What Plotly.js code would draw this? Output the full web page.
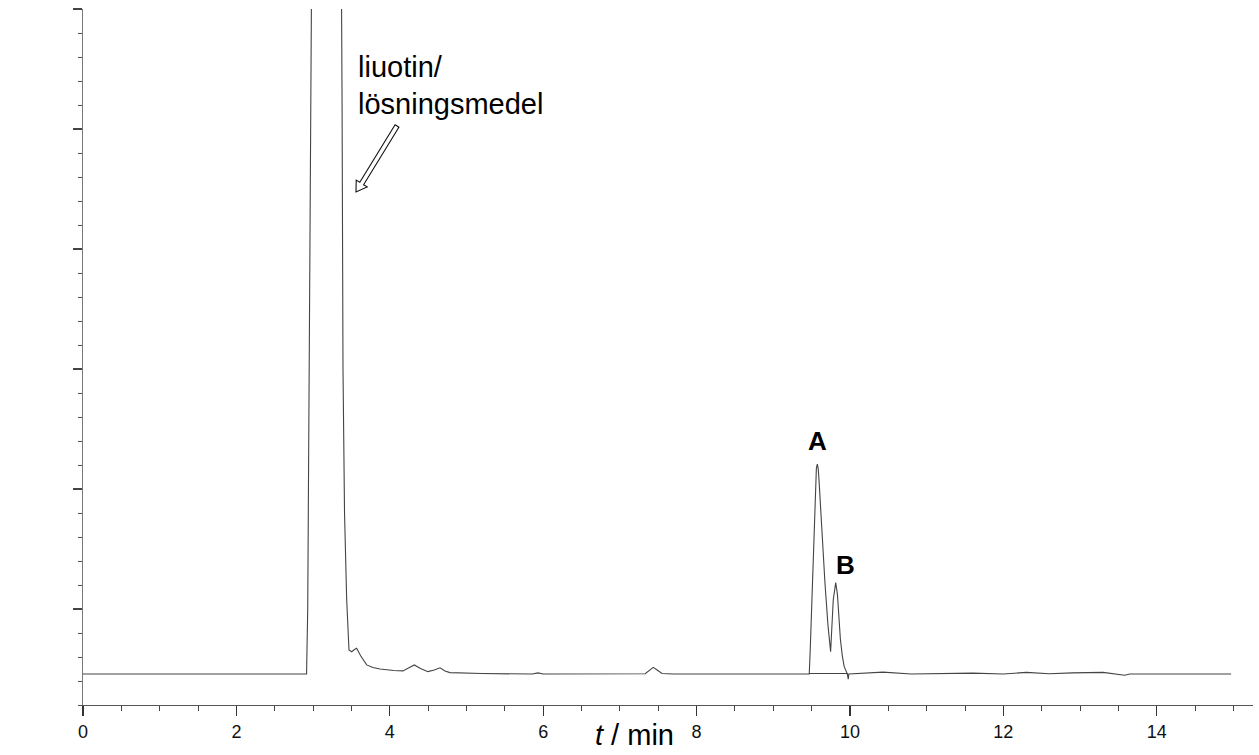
<!DOCTYPE html>
<html><head><meta charset="utf-8">
<script src="https://cdn.plot.ly/plotly-3.0.1.min.js"></script>
<style>html,body{margin:0;padding:0;background:#fff}#chart{width:1259px;height:755px}</style>
</head><body><div id="chart"></div>
<script>
// Chromatogram trace (time in min, detector signal in arbitrary units)
const timeMin = [0, 2.915, 2.93, 3.19, 3.378, 3.39, 3.41, 3.438, 3.468, 3.503, 3.535, 3.568, 3.62, 3.699, 3.78, 3.872, 4.05, 4.172, 4.25, 4.32, 4.40, 4.498, 4.58, 4.655, 4.72, 4.785, 5.2, 5.606, 5.86, 5.93, 6.0, 7.33, 7.39, 7.436, 7.49, 7.55, 7.7, 9.469, 9.482, 9.521, 9.55, 9.562, 9.574, 9.586, 9.596, 9.622, 9.674, 9.713, 9.748, 9.782, 9.814, 9.837, 9.855, 9.875, 9.90, 9.925, 9.965, 9.978, 9.985, 10.43, 10.8, 11.6, 12.0, 12.3, 12.6, 12.9, 13.3, 13.58, 13.65, 14.97];
const signal  = [1.29, 1.29, 4.0, 140, 25, 14, 8, 4.4, 2.29, 2.22, 2.3, 2.36, 2.05, 1.67, 1.56, 1.5, 1.44, 1.42, 1.55, 1.67, 1.52, 1.39, 1.46, 1.55, 1.42, 1.35, 1.31, 1.29, 1.29, 1.34, 1.29, 1.30, 1.45, 1.57, 1.45, 1.31, 1.29, 1.29, 2.29, 6.46, 9.2, 9.85, 10.04, 9.85, 9.4, 7.85, 5.08, 3.33, 2.22, 4.375, 5.1, 4.6, 3.7, 2.75, 2.05, 1.6, 1.3, 1.08, 1.29, 1.37, 1.29, 1.33, 1.29, 1.36, 1.3, 1.34, 1.36, 1.24, 1.29, 1.29];
// Integration baseline under peaks A and B
const integTime = [9.465, 9.975];
const integSignal = [1.31, 1.31];
// Axis ticks
const xTickVals = [0, 2, 4, 6, 8, 10, 12, 14];
const xTickText = ['0', '2', '4', '6', '8', '10', '12', '14'];
// Labels
const peakLabels = ['A', 'B'];
const peakLabelTime = [9.577, 9.948];
const peakLabelSignal = [11.0, 5.83];
const solventLines = ['liuotin/', 'lösningsmedel'];

const FONT = 'Liberation Sans, Arial, sans-serif';
const M = {l: 83, r: 6, t: 9, b: 50};
const XR = [0, 15.255], YR = [0, 29];
const W = 1259, H = 755;
const pw = W - M.l - M.r, ph = H - M.t - M.b;
function px2x(px) { return XR[0] + (px - M.l) / pw * (XR[1] - XR[0]); }
function py2y(py) { return YR[0] + (H - M.b - py) / ph * (YR[1] - YR[0]); }
function py2paper(py) { return (H - M.b - py) / ph; }

// hollow arrow outline (pixel geometry converted to axis units)
const arrowPx = [[398.9,127.2],[363.6,184.7],[367.2,186.9],[356,192],[356.2,180.1],[359.8,182.3],[395.1,124.8]];
const arrowPath = arrowPx.map((p, i) => (i ? 'L' : 'M') + px2x(p[0]).toFixed(4) + ',' + py2y(p[1]).toFixed(4)).join(' ') + ' Z';

const lineStyle = {color: '#444', width: 1.1};
const traces = [
  {x: timeMin, y: signal, type: 'scatter', mode: 'lines', line: lineStyle, hoverinfo: 'skip'},
  {x: integTime, y: integSignal, type: 'scatter', mode: 'lines', line: lineStyle, hoverinfo: 'skip'}
];

const annotations = [];
peakLabels.forEach((t, i) => annotations.push({
  x: peakLabelTime[i], y: peakLabelSignal[i], xref: 'x', yref: 'y', text: '<b>' + t + '</b>',
  showarrow: false, xanchor: 'center', yanchor: 'middle', font: {family: FONT, size: 26, color: '#000'}
}));
const solventY = [67, 104];
solventLines.forEach((t, i) => annotations.push({
  x: px2x(356), y: py2y(solventY[i]), xref: 'x', yref: 'y', text: t,
  showarrow: false, xanchor: 'left', yanchor: 'middle', font: {family: FONT, size: 29, color: '#000'}
}));
annotations.push({
  x: (634 - M.l) / pw, y: py2paper(735), xref: 'paper', yref: 'paper', text: '<i>t</i> / min',
  showarrow: false, xanchor: 'center', yanchor: 'middle', font: {family: FONT, size: 29, color: '#000'}
});

const layout = {
  width: W, height: H, margin: M, showlegend: false,
  paper_bgcolor: '#fff', plot_bgcolor: '#fff',
  xaxis: {
    range: XR, tickmode: 'array', tickvals: xTickVals, ticktext: xTickText,
    ticks: 'outside', ticklen: 10, tickwidth: 1.2, tickcolor: '#333',
    showline: true, linecolor: '#555', linewidth: 1.2, showgrid: false, zeroline: false,
    tickfont: {family: FONT, size: 18, color: '#111'},
    minor: {tickmode: 'linear', tick0: 0, dtick: 0.5, ticks: 'outside', ticklen: 5, tickwidth: 1, tickcolor: '#444', showgrid: false}
  },
  yaxis: {
    range: YR, tickmode: 'linear', tick0: 4, dtick: 5, ticks: 'outside', ticklen: 9, tickwidth: 1.1, tickcolor: '#444',
    showticklabels: false, showline: true, linecolor: '#777', linewidth: 1.2, showgrid: false, zeroline: false,
    minor: {tickmode: 'linear', tick0: 0, dtick: 1, ticks: 'outside', ticklen: 3.5, tickwidth: 1, tickcolor: '#555', showgrid: false}
  },
  shapes: [{type: 'path', xref: 'x', yref: 'y', path: arrowPath, line: {color: '#111', width: 1.1}, fillcolor: '#fff'}],
  annotations: annotations
};
Plotly.newPlot('chart', traces, layout, {displayModeBar: false, staticPlot: true});
</script></body></html>
